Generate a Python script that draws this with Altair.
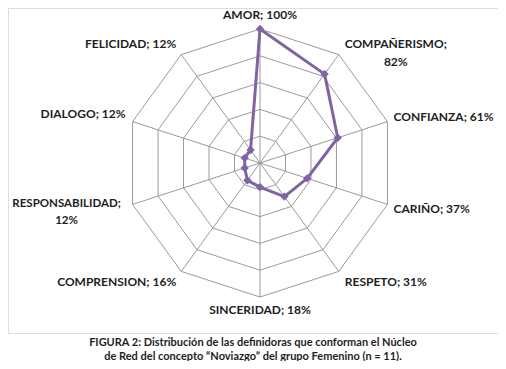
import math
import altair as alt
import pandas as pd

categories = ["AMOR", "COMPAÑERISMO", "CONFIANZA", "CARIÑO", "RESPETO",
              "SINCERIDAD", "COMPRENSION", "RESPONSABILIDAD", "DIALOGO", "FELICIDAD"]
values = [100, 82, 61, 37, 31, 18, 16, 12, 12, 12]
ring_levels = [20, 40, 60, 80, 100]
caption = ["FIGURA 2: Distribución de las definidoras que conforman el Núcleo",
           "de Red del  concepto “Noviazgo” del grupo Femenino (n = 11)."]

n = len(categories)
PURPLE = "#8064A2"
GRID = "#9a9a9a"
FONT = "Lato"
TXT = "#1e1e1e"

# closed polygon of the series
series = pd.DataFrame({
    "idx": list(range(n + 1)),
    "name": [categories[i % n] for i in range(n + 1)],
    "value": [values[i % n] for i in range(n + 1)],
})
series["a"] = series["idx"] * 360.0 / n

grid = pd.DataFrame([
    {"level": lv, "idx": i, "a": i * 360.0 / n}
    for lv in ring_levels for i in range(n + 1)
])

spokes = pd.DataFrame({"name": categories, "a": [i * 360.0 / n for i in range(n)]})

labels = pd.DataFrame({"name": categories, "value": values,
                       "a": [i * 360.0 / n for i in range(n)]})

W, H = 490, 325
UNIT = 134.0
CX, CY = 252.0, 155.0
xs = alt.Scale(domain=[-CX / UNIT, (W - CX) / UNIT], nice=False, zero=False)
ys = alt.Scale(domain=[-(H - CY) / UNIT, CY / UNIT], nice=False, zero=False)

X = lambda f: alt.X(f, type="quantitative", scale=xs, axis=None)
Y = lambda f: alt.Y(f, type="quantitative", scale=ys, axis=None)

rings = alt.Chart(grid).transform_calculate(
    gx="datum.level / 100 * sin(datum.a * PI / 180)",
    gy="datum.level / 100 * cos(datum.a * PI / 180)",
).mark_line(color=GRID, strokeWidth=1).encode(
    x=X("gx"), y=Y("gy"), detail="level:N", order="idx:Q"
)

spoke = alt.Chart(spokes).transform_calculate(
    x0="0", y0="0",
    sx="sin(datum.a * PI / 180)", sy="cos(datum.a * PI / 180)",
).mark_rule(color=GRID, strokeWidth=1).encode(
    x=X("x0"), y=Y("y0"), x2="sx:Q", y2="sy:Q"
)

poly_base = alt.Chart(series).transform_calculate(
    px="datum.value / 100 * sin(datum.a * PI / 180)",
    py="datum.value / 100 * cos(datum.a * PI / 180)",
)
line = poly_base.mark_line(color=PURPLE, strokeWidth=3, strokeJoin="round").encode(
    x=X("px"), y=Y("py"), order="idx:Q"
)
pts = poly_base.transform_filter(f"datum.idx < {n}").mark_point(
    shape="diamond", filled=True, color=PURPLE, size=70, opacity=1
).encode(x=X("px"), y=Y("py"))

lab_base = alt.Chart(labels).transform_calculate(
    lx="sin(datum.a * PI / 180)",
    ly="1.1 * cos(datum.a * PI / 180)",
    txt="datum.name + '; ' + datum.value + '%'",
    txt2="datum.name + ';\\n' + datum.value + '%'",
)
txt_style = dict(font=FONT, fontSize=12, fontWeight="bold", color=TXT,
                 baseline="middle", lineBreak="\n", lineHeight=18)

lab_left = lab_base.transform_filter(
    "datum.name == 'CONFIANZA' || datum.name == 'CARIÑO' || datum.name == 'RESPETO'"
).mark_text(align="left", dx=6, **txt_style).encode(x=X("lx"), y=Y("ly"), text="txt:N")

lab_right = lab_base.transform_filter(
    "datum.name == 'COMPRENSION' || datum.name == 'FELICIDAD'"
).mark_text(align="right", dx=-5, **txt_style).encode(x=X("lx"), y=Y("ly"), text="txt:N")

lab_dial = lab_base.transform_filter("datum.name == 'DIALOGO'").mark_text(
    align="right", dx=-7, dy=-3, **txt_style
).encode(x=X("lx"), y=Y("ly"), text="txt:N")

lab_top = lab_base.transform_filter("datum.name == 'AMOR'").mark_text(
    align="center", dy=-1, **txt_style
).encode(x=X("lx"), y=Y("ly"), text="txt:N")

lab_bot = lab_base.transform_filter("datum.name == 'SINCERIDAD'").mark_text(
    align="center", **txt_style
).encode(x=X("lx"), y=Y("ly"), text="txt:N")

lab_comp = lab_base.transform_filter("datum.name == 'COMPAÑERISMO'").mark_text(
    align="center", dx=57, dy=0, **txt_style
).encode(x=X("lx"), y=Y("ly"), text="txt2:N")

resp_style = dict(txt_style, fontSize=11.5, lineHeight=17)
lab_resp = lab_base.transform_filter("datum.name == 'RESPONSABILIDAD'").mark_text(
    align="center", dx=-66, dy=-5, **resp_style
).encode(x=X("lx"), y=Y("ly"), text="txt2:N")

chart = alt.layer(
    rings, spoke, line, pts, lab_left, lab_right, lab_dial, lab_top, lab_bot,
    lab_comp, lab_resp
).properties(
    width=W, height=H,
    autosize="none",
    padding={"left": 0, "top": 0, "right": 0, "bottom": 28},
    title=alt.TitleParams(
        text=caption, orient="bottom", anchor="middle", offset=4,
        font=FONT, fontSize=11, fontWeight="bold", color=TXT,
        lineHeight=13.5, baseline="top",
    ),
).configure_view(stroke=None).configure(background="white")

chart.save("out.html", embed_options={"renderer": "svg", "actions": False})
